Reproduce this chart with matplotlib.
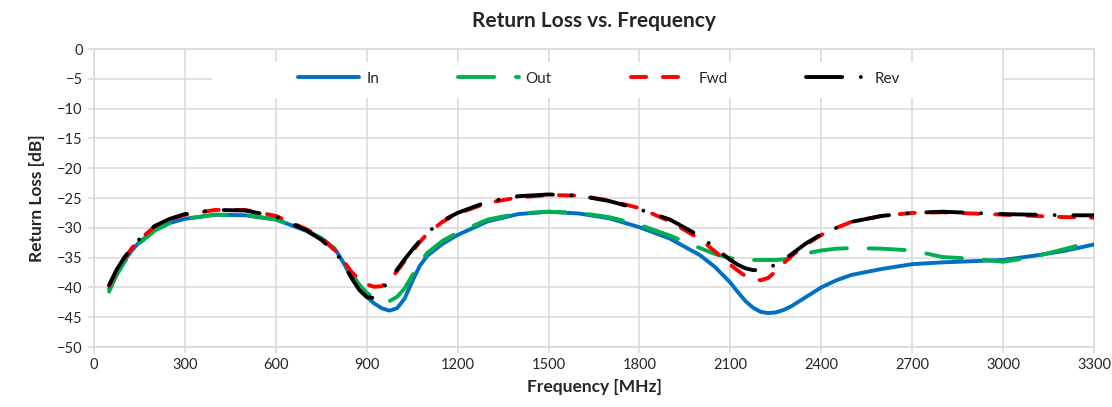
import numpy as np
import matplotlib
matplotlib.use("Agg")
import matplotlib.pyplot as plt
from matplotlib.patches import Rectangle

plt.rcParams['font.family'] = ['Lato', 'DejaVu Sans']

# DATA
freq = [50, 75, 100, 125, 150, 200, 250, 300, 400, 500, 600, 700, 750, 800, 825, 850, 875,
        900, 925, 950, 975, 1000, 1025, 1050, 1075, 1100, 1150, 1200, 1300, 1400, 1500,
        1600, 1700, 1800, 1900, 2000, 2050, 2100, 2125, 2150, 2175, 2200, 2225, 2250,
        2275, 2300, 2350, 2400, 2450, 2500, 2600, 2700, 2800, 2900, 3000, 3100, 3200, 3300]

rl_in = [-40.3, -37.6, -35.5, -33.8, -32.4, -30.4, -29.2, -28.5, -27.8, -27.9, -28.6, -30.5,
         -31.9, -33.9, -36.0, -38.4, -40.2, -41.6, -42.7, -43.5, -43.9, -43.5, -41.9, -39.0,
         -36.4, -34.7, -32.7, -31.2, -28.9, -27.7, -27.3, -27.6, -28.4, -29.9, -31.8, -34.6,
         -36.6, -39.2, -40.8, -42.3, -43.4, -44.1, -44.3, -44.2, -43.8, -43.2, -41.6, -40.0,
         -38.8, -37.9, -36.9, -36.1, -35.8, -35.6, -35.4, -34.7, -33.9, -32.8]

rl_out = [-40.7, -37.9, -35.8, -34.0, -32.6, -30.5, -29.2, -28.5, -27.8, -27.9, -28.6, -30.4,
          -31.7, -33.7, -35.6, -37.6, -39.5, -40.9, -41.8, -42.2, -42.3, -41.6, -40.2, -38.0,
          -35.8, -34.2, -32.2, -30.8, -28.6, -27.6, -27.3, -27.5, -28.2, -29.5, -31.3, -33.4,
          -34.4, -35.1, -35.3, -35.4, -35.4, -35.4, -35.4, -35.4, -35.3, -35.1, -34.3, -33.8,
          -33.5, -33.4, -33.5, -33.8, -34.9, -35.2, -35.7, -34.9, -33.6, -32.3]

rl_fwd = [-39.8, -37.2, -35.2, -33.4, -32.0, -29.8, -28.6, -27.8, -27.0, -27.0, -28.0, -30.2,
          -31.6, -34.0, -35.7, -37.4, -38.7, -39.5, -39.9, -39.8, -38.8, -37.3, -35.6, -34.0,
          -32.4, -31.0, -29.0, -27.6, -25.8, -24.9, -24.5, -24.6, -25.4, -26.7, -28.9, -31.9,
          -34.0, -36.2, -37.2, -38.1, -38.6, -38.8, -38.4, -37.3, -36.0, -34.8, -32.8, -31.2,
          -30.0, -29.0, -28.0, -27.5, -27.4, -27.6, -27.8, -28.0, -28.2, -28.3]

rl_rev = [-39.6, -37.0, -35.0, -33.3, -31.9, -29.7, -28.5, -27.7, -27.0, -27.1, -28.1, -30.4,
          -32.0, -34.3, -36.2, -38.4, -40.4, -41.6, -41.8, -40.5, -38.6, -37.0, -35.3, -33.7,
          -32.2, -30.8, -28.8, -27.5, -25.6, -24.7, -24.4, -24.6, -25.5, -26.9, -28.6, -31.4,
          -33.4, -35.4, -36.2, -36.8, -37.1, -37.1, -36.8, -36.1, -35.3, -34.5, -32.6, -31.1,
          -30.0, -29.0, -28.0, -27.5, -27.3, -27.5, -27.7, -27.8, -27.9, -27.9]

series_names = ['In', 'Out', 'Fwd', 'Rev']
x_ticks = np.arange(0, 3301, 300)
y_ticks = np.arange(-50, 1, 5)

# STILE
grid_col = '#d9d9d9'
txt_col = '#262626'
lw = 2.8

fig = plt.figure(figsize=(11.12, 4.07), dpi=100)
ax = fig.add_axes([0.0845, 0.1474, 0.8993, 0.7322])

ax.plot(freq, rl_in, color='#0070C0', lw=lw, solid_capstyle='round', solid_joinstyle='round',
        label=series_names[0], zorder=3)
ax.plot(freq, rl_out, color='#00B050', lw=lw, dash_capstyle='round', dash_joinstyle='round',
        linestyle=(0, (9.3, 5.6)), label=series_names[1], zorder=4)
ax.plot(freq, rl_fwd, color='#FF0000', lw=lw, dash_capstyle='round', dash_joinstyle='round',
        linestyle=(0, (3.9, 4.3)), label=series_names[2], zorder=5)
ax.plot(freq, rl_rev, color='#000000', lw=lw, dash_capstyle='round', dash_joinstyle='round',
        linestyle=(0, (9.3, 4.8, 0.01, 4.8)), label=series_names[3], zorder=6)

ax.set_xlim(0, 3300)
ax.set_ylim(-50, 0)
ax.set_xticks(x_ticks)
ax.set_yticks(y_ticks)
ax.grid(True, color=grid_col, lw=1.1)
ax.set_axisbelow(True)
for s in ax.spines.values():
    s.set_color(grid_col)
    s.set_linewidth(1.1)
ax.tick_params(axis='both', color=grid_col, length=4, width=1.1, labelsize=10.5,
               labelcolor=txt_col, pad=4)

# box bianco della legenda sopra la griglia
ax.add_patch(Rectangle((0.118, 0.835), 0.79, 0.12, transform=ax.transAxes,
                       facecolor='white', edgecolor='none', zorder=1))
leg = ax.legend(loc='center', bbox_to_anchor=(0.505, 0.9), ncol=4, frameon=False,
                handlelength=4.0, handletextpad=0.45, columnspacing=5.15, fontsize=11)
for t in leg.get_texts():
    t.set_color(txt_col)

ax.set_title('Return Loss vs. Frequency', fontsize=15, fontweight='bold', color=txt_col, pad=16)
ax.set_xlabel('Frequency [MHz]', fontsize=12.5, fontweight='bold', color=txt_col, labelpad=5)
ax.set_ylabel('Return Loss [dB]', fontsize=12.5, fontweight='bold', color=txt_col, labelpad=9)

fig.savefig('out.png', dpi=100)
